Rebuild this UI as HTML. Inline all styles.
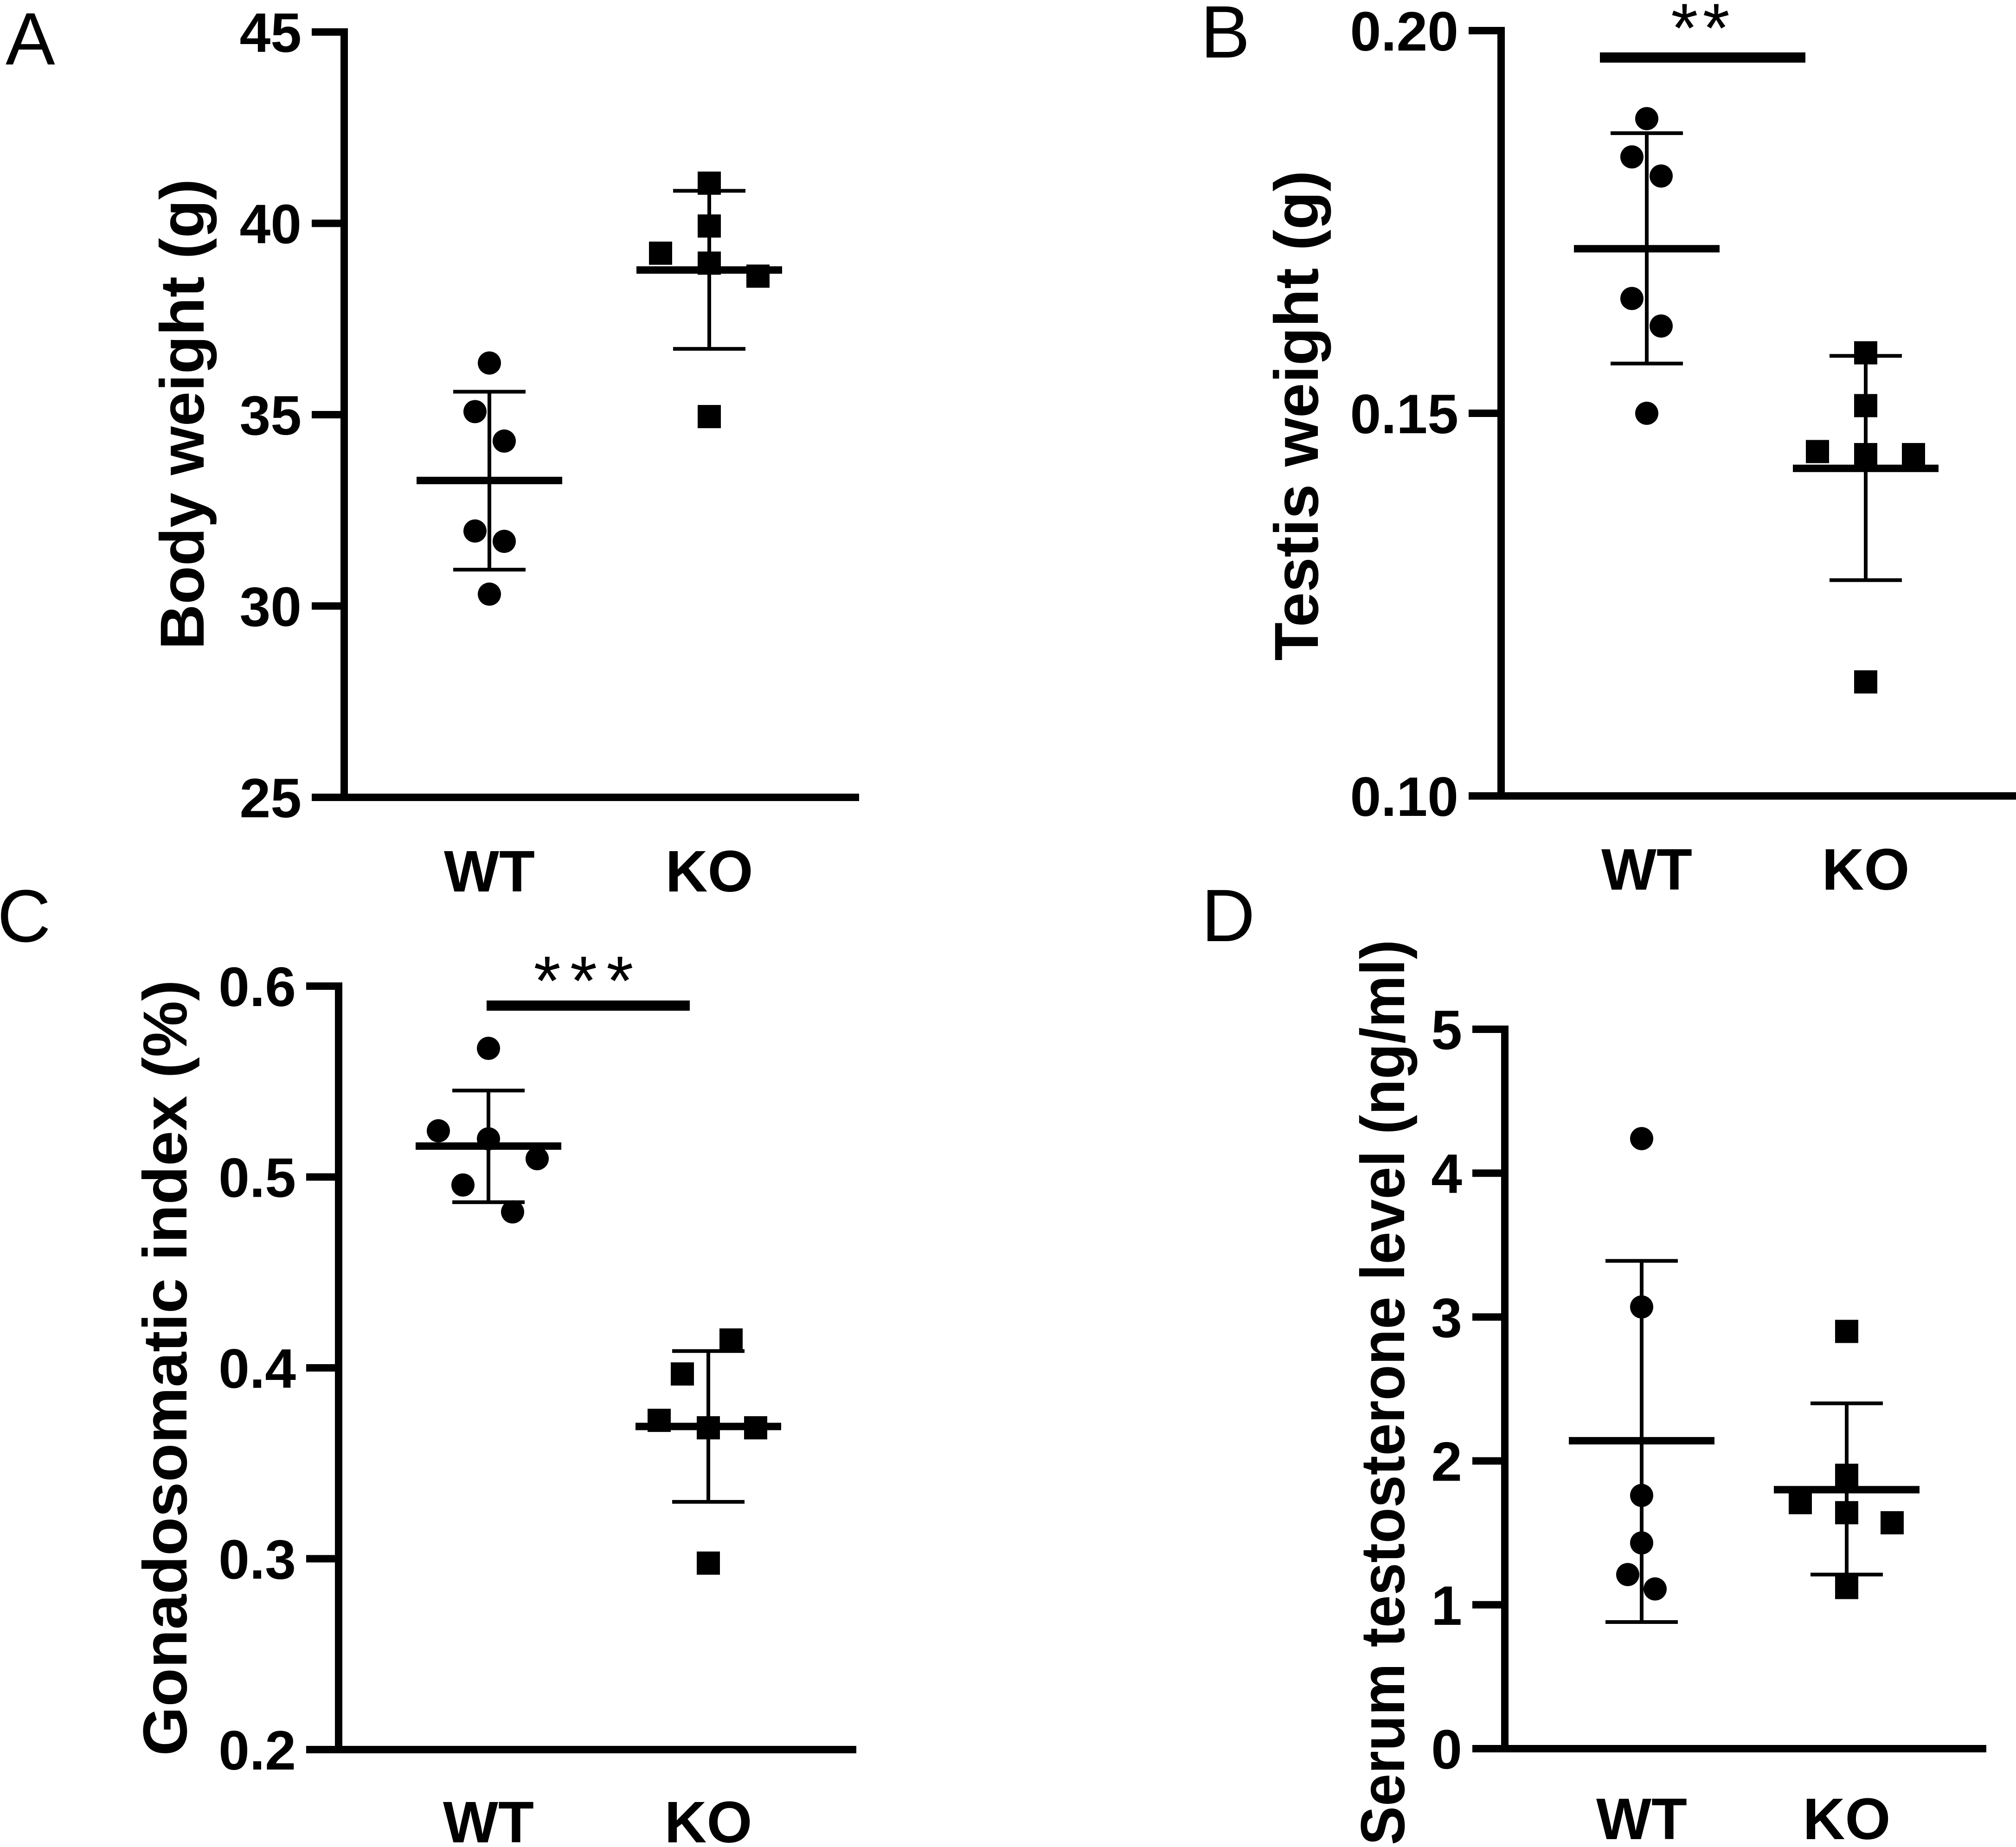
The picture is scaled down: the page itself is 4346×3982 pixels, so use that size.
<!DOCTYPE html>
<html><head><meta charset="utf-8">
<style>
html,body{margin:0;padding:0;background:#fff;}
svg{display:block;}
text{font-family:"Liberation Sans",Arial,sans-serif;fill:#000;}
</style></head>
<body>
<svg id="fig" width="4346" height="3982" viewBox="0 0 4346 3982" xmlns="http://www.w3.org/2000/svg"></svg>
<script>
// Panel A: Body weight (g)
const aWT = [36.35, 35.08, 34.31, 31.96, 31.69, 30.31];
const aKO = [41.05, 39.93, 39.22, 38.96, 38.62, 34.95];
const aMean = [33.28, 38.78];
const aHi = [35.6, 40.85];
const aLo = [30.95, 36.72];
const aTicks = [25, 30, 35, 40, 45];
const aTickLabels = ["25", "30", "35", "40", "45"];
// Panel B: Testis weight (g)
const bWT = [0.1885, 0.1835, 0.181, 0.165, 0.1614, 0.150];
const bKO = [0.1579, 0.151, 0.145, 0.1446, 0.1446, 0.1149];
const bMean = [0.1715, 0.1428];
const bHi = [0.1866, 0.1575];
const bLo = [0.1565, 0.1282];
const bTicks = [0.10, 0.15, 0.20];
const bTickLabels = ["0.10", "0.15", "0.20"];
// Panel C: Gonadosomatic index (%)
const cWT = [0.5674, 0.5242, 0.520, 0.5096, 0.4958, 0.4817];
const cKO = [0.4146, 0.3968, 0.3725, 0.3686, 0.3686, 0.2977];
const cMean = [0.5162, 0.3693];
const cHi = [0.5453, 0.4088];
const cLo = [0.4868, 0.3298];
const cTicks = [0.2, 0.3, 0.4, 0.5, 0.6];
const cTickLabels = ["0.2", "0.3", "0.4", "0.5", "0.6"];
// Panel D: Serum testosterone level (ng/ml)
const dWT = [4.24, 3.07, 1.76, 1.43, 1.21, 1.11];
const dKO = [2.90, 1.90, 1.71, 1.64, 1.57, 1.12];
const dMean = [2.14, 1.80];
const dHi = [3.39, 2.40];
const dLo = [0.88, 1.21];
const dTicks = [0, 1, 2, 3, 4, 5];
const dTickLabels = ["0", "1", "2", "3", "4", "5"];
const groups = ["WT", "KO"];

const NS = "http://www.w3.org/2000/svg";
const svg = document.getElementById("fig");
function mk(tag, attrs, parent) {
  const e = document.createElementNS(NS, tag);
  for (const k in attrs) e.setAttribute(k, attrs[k]);
  (parent || svg).appendChild(e);
  return e;
}

function panel(cfg) {
  const g = mk("g", {});
  
  
  const y = v => cfg.y0 + (v - cfg.vmin) / (cfg.vmax - cfg.vmin) * (cfg.y1 - cfg.y0);
  // letter
  const L = mk("text", {x: cfg.lx, y: cfg.ly, "font-size": 160}, g);
  L.textContent = cfg.letter;
  
  
  // axes
  const ya = mk("line", {x1: cfg.ax, y1: y(cfg.vmax) - 8, x2: cfg.ax, y2: y(cfg.vmin) + 8, stroke: "#000", "stroke-width": 16}, g);
  
  
  const xa = mk("line", {x1: cfg.ax - 70, y1: y(cfg.vmin), x2: cfg.xend, y2: y(cfg.vmin), stroke: "#000", "stroke-width": 16}, g);
  
  
  cfg.ticks.forEach((t, i) => {
    const ty = y(t);
    const tk = mk("line", {x1: cfg.ax - 70, y1: ty, x2: cfg.ax, y2: ty, stroke: "#000", "stroke-width": 16}, g);
    
    
    const tl = mk("text", {x: cfg.ax - 92, y: ty + 43, "font-size": 120, "font-weight": "bold", "text-anchor": "end"}, g);
    tl.textContent = cfg.tickLabels[i];
    
    
  });
  // y title
  const tt = mk("text", {x: 0, y: 0, "font-size": 134, "font-weight": "bold", "text-anchor": "middle",
    transform: "translate(" + cfg.tx + "," + cfg.tcy + ") rotate(-90)", textLength: cfg.tlen, lengthAdjust: "spacingAndGlyphs"}, g);
  tt.textContent = cfg.title;
  
  
  // groups
  groups.forEach((gn, gi) => {
    const cx = cfg.gx[gi];
    const xl = mk("text", {x: cx, y: cfg.xly, "font-size": 126, "font-weight": "bold", "text-anchor": "middle"}, g);
    xl.textContent = gn;
    
    
    const vals = gi === 0 ? cfg.wt : cfg.ko;
    vals.forEach((v, i) => {
      const px = cx + cfg.off[gi][i];
      let m;
      if (gi === 0) m = mk("circle", {cx: px, cy: y(v), r: 25, fill: "#000"}, g);
      else m = mk("rect", {x: px - 25, y: y(v) - 25, width: 50, height: 50, fill: "#000"}, g);
      
      
    });
    const eb = mk("line", {x1: cx, y1: y(cfg.hi[gi]), x2: cx, y2: y(cfg.lo[gi]), stroke: "#000", "stroke-width": 8}, g);
    
    
    [cfg.hi[gi], cfg.lo[gi]].forEach(cv => {
      const cp = mk("line", {x1: cx - 78, y1: y(cv), x2: cx + 78, y2: y(cv), stroke: "#000", "stroke-width": 8}, g);
      
      
    });
    const ml = mk("line", {x1: cx - 157, y1: y(cfg.mean[gi]), x2: cx + 157, y2: y(cfg.mean[gi]), stroke: "#000", "stroke-width": 16}, g);
    
    
  });
  if (cfg.sig) {
    const s = cfg.sig;
    const sb = mk("line", {x1: s.x1, y1: s.y, x2: s.x2, y2: s.y, stroke: "#000", "stroke-width": 22}, g);
    
    
    const st = mk("text", {x: (s.x1 + s.x2) / 2, y: s.ty, "font-size": 150, "text-anchor": "middle", "letter-spacing": s.ls}, g);
    st.textContent = s.text;
    
    
  }
}

panel({id: "a", letter: "A", lx: 12, ly: 139, ax: 742, xend: 1852, y0: 1719, y1: 69, vmin: 25, vmax: 45,
  ticks: aTicks, tickLabels: aTickLabels, title: "Body weight (g)", tx: 439, tcy: 893, tlen: 1015,
  gx: [1055, 1529], xly: 1922, wt: aWT, ko: aKO, mean: aMean, hi: aHi, lo: aLo,
  off: [[0, -31, 32, -31, 32, 0], [0, 0, -105, 0, 105, 0]]});
panel({id: "b", letter: "B", lx: 2588, ly: 124, ax: 3236, xend: 4346, y0: 1716, y1: 66, vmin: 0.10, vmax: 0.20,
  ticks: bTicks, tickLabels: bTickLabels, title: "Testis weight (g)", tx: 2841, tcy: 896, tlen: 1057,
  gx: [3550, 4022], xly: 1918, wt: bWT, ko: bKO, mean: bMean, hi: bHi, lo: bLo,
  off: [[0, -32, 31, -32, 31, 0], [0, 0, -104, 0, 103, 0]],
  sig: {x1: 3449, x2: 3892, y: 124, ty: 112, text: "**", ls: 10}});
panel({id: "c", letter: "C", lx: -6, ly: 2030, ax: 730, xend: 1846, y0: 3772, y1: 2126, vmin: 0.2, vmax: 0.6,
  ticks: cTicks, tickLabels: cTickLabels, title: "Gonadosomatic index (%)", tx: 402, tcy: 2949, tlen: 1673,
  gx: [1053, 1527], xly: 3972, wt: cWT, ko: cKO, mean: cMean, hi: cHi, lo: cLo,
  off: [[0, -108, 0, 105, -55, 52], [49, -56, -106, 0, 102, 0]],
  sig: {x1: 1049, x2: 1487, y: 2168, ty: 2166, text: "***", ls: 20}});
panel({id: "d", letter: "D", lx: 2590, ly: 2029, ax: 3244, xend: 4282, y0: 3770, y1: 2219, vmin: 0, vmax: 5,
  ticks: dTicks, tickLabels: dTickLabels, title: "Serum testosterone level (ng/ml)", tx: 3027, tcy: 3002, tlen: 1952,
  gx: [3539, 3981], xly: 3965, wt: dWT, ko: dKO, mean: dMean, hi: dHi, lo: dLo,
  off: [[0, 0, 0, 0, -30, 29], [0, 0, -100, 0, 98, 0]]});
</script>
</body></html>
